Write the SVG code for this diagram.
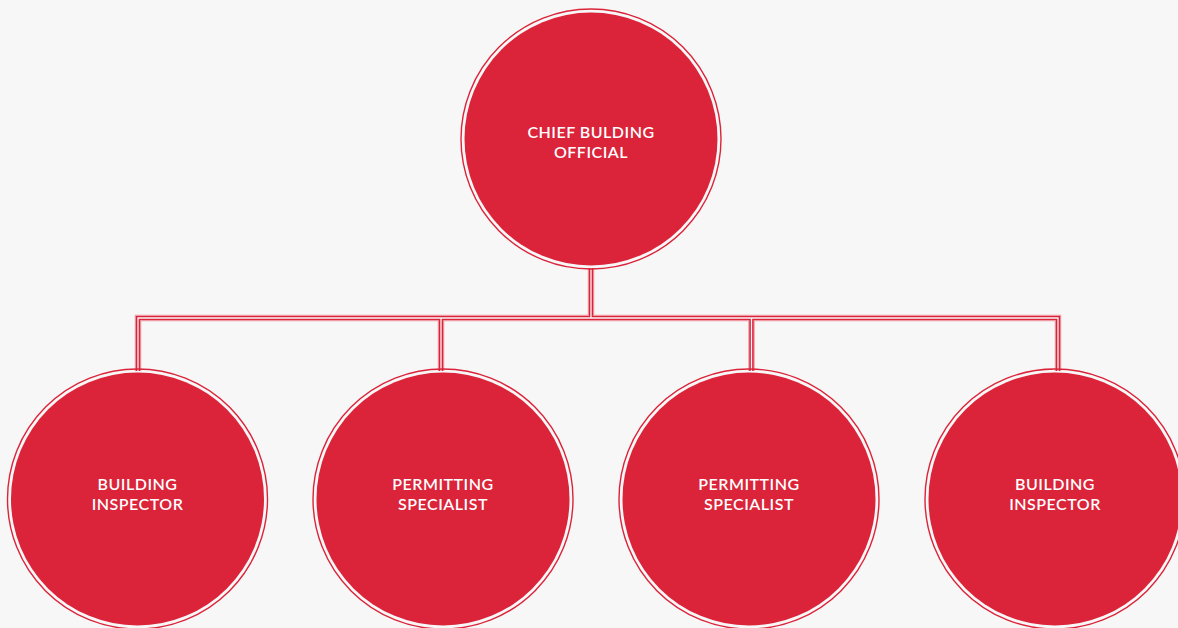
<svg xmlns="http://www.w3.org/2000/svg" width="1178" height="628" viewBox="0 0 1178 628">
  <style>
    .ring { fill: none; stroke: #db2339; stroke-width: 1.4; }
    .disc { fill: #db2339; }
    .label { fill: #ffffff; font-family: Lato, "Open Sans", "Liberation Sans", sans-serif; font-weight: 600; font-size: 16px; letter-spacing: 0.5px; text-anchor: middle; }
    .halo { fill: none; stroke: #ef9aa5; stroke-width: 6.5; }
    .rail { fill: none; stroke: #db2339; stroke-width: 4.2; }
    .gap { fill: none; stroke: #f7f7f7; stroke-width: 1.3; }
  </style>
  <defs>
    <path id="links" d="M591,268 V318 M138,371 V318 H1058 V371 M441,318 V371 M751.5,318 V371"/>
  </defs>
  <rect width="1178" height="628" fill="#f7f7f7"/>

  <!-- double-rule connectors -->
  <g id="connectors">
    <use href="#links" class="halo"/>
    <use href="#links" class="rail"/>
    <use href="#links" class="gap"/>
  </g>

  <g id="chief">
    <circle class="ring" cx="591" cy="139" r="130"/>
    <circle class="disc" cx="591" cy="139" r="126.5"/>
    <text class="label" x="591" y="138">CHIEF BULDING</text>
    <text class="label" x="591" y="158">OFFICIAL</text>
  </g>

  <g id="inspector-1">
    <circle class="ring" cx="137.5" cy="499" r="130"/>
    <circle class="disc" cx="137.5" cy="499" r="126.5"/>
    <text class="label" x="137.5" y="489.5">BUILDING</text>
    <text class="label" x="137.5" y="509.5">INSPECTOR</text>
  </g>

  <g id="permitting-1">
    <circle class="ring" cx="443" cy="499" r="130"/>
    <circle class="disc" cx="443" cy="499" r="126.5"/>
    <text class="label" x="443" y="489.5">PERMITTING</text>
    <text class="label" x="443" y="509.5">SPECIALIST</text>
  </g>

  <g id="permitting-2">
    <circle class="ring" cx="749" cy="499" r="130"/>
    <circle class="disc" cx="749" cy="499" r="126.5"/>
    <text class="label" x="749" y="489.5">PERMITTING</text>
    <text class="label" x="749" y="509.5">SPECIALIST</text>
  </g>

  <g id="inspector-2">
    <circle class="ring" cx="1055" cy="499" r="130"/>
    <circle class="disc" cx="1055" cy="499" r="126.5"/>
    <text class="label" x="1055" y="489.5">BUILDING</text>
    <text class="label" x="1055" y="509.5">INSPECTOR</text>
  </g>
</svg>
